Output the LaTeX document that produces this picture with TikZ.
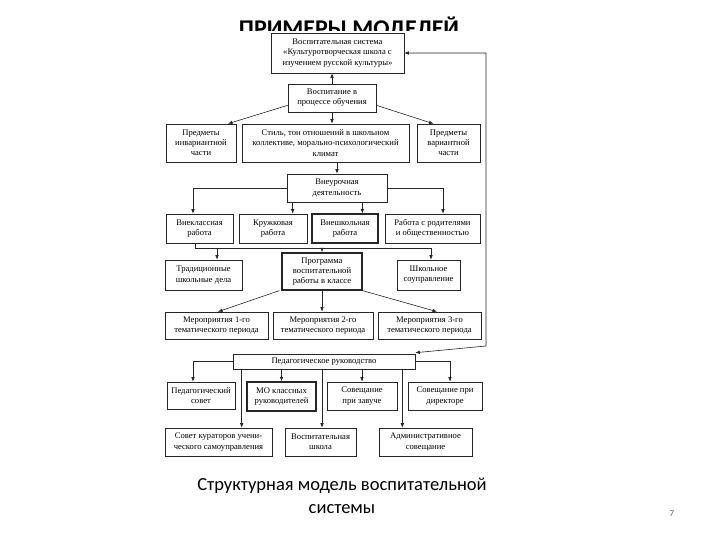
\documentclass[tikz,border=0pt]{standalone}
\usepackage{fontspec}
\setmainfont{Liberation Serif}
\newfontfamily\capfont{Carlito}
\usetikzlibrary{arrows.meta,calc}
\begin{document}
\begin{tikzpicture}[x=1pt,y=-1pt,
  bx/.style={draw=black!85,line width=0.6pt,inner sep=0pt,align=center,
    font=\fontsize{8.6}{10.2}\selectfont},
  thick box/.style={bx,line width=1.3pt},
  arr/.style={draw=black!85,line width=0.6pt,-{Latex[length=4.5pt,width=3.6pt]}},
  arrr/.style={draw=black!85,line width=0.6pt,{Latex[length=4.5pt,width=3.6pt]}-{Latex[length=4.5pt,width=3.6pt]}},
  ln/.style={draw=black!85,line width=0.6pt}]
\useasboundingbox (0,0) rectangle (720,540);
\fill[white] (0,0) rectangle (720,540);
% title (partly hidden by the diagram image)
\begin{scope}
\clip (0,0) rectangle (720,31);
\node[font=\capfont\bfseries\fontsize{24}{28}\selectfont,anchor=base,inner sep=0pt] (title) at (349,36.5) {ПРИМЕРЫ МОДЕЛЕЙ};
\end{scope}
% boxes
\node[bx,minimum width=133,minimum height=40] (top) at (337.5,53) {Воспитательная система\\«Культуротворческая школа с\\изучением русской культуры»};
\node[bx,minimum width=88,minimum height=28] (vosp) at (332,98) {Воспитание в\\процессе обучения};
\node[bx,minimum width=70,minimum height=38] (pinv) at (201,143) {Предметы\\инвариантной\\части};
\node[bx,minimum width=167,minimum height=38] (stil) at (325.5,143) {Стиль, тон отношений в школьном\\коллективе, морально-психологический\\климат};
\node[bx,minimum width=63,minimum height=38] (pvar) at (448.5,143) {Предметы\\вариантной\\части};
\node[bx,minimum width=100,minimum height=28] (vneur) at (337,188) {Внеурочная\\деятельность};
\node[bx,minimum width=67,minimum height=29] (vnekl) at (199.5,228.5) {Внеклассная\\работа};
\node[bx,minimum width=68,minimum height=29] (kruzh) at (273,228.5) {Кружковая\\работа};
\node[thick box,minimum width=66,minimum height=29] (vnesh) at (345,228.5) {Внешкольная\\работа};
\node[bx,minimum width=95,minimum height=29] (rabrod) at (432.5,228.5) {Работа с родителями\\и общественностью};
\node[bx,minimum width=77,minimum height=30] (trad) at (203.5,275) {Традиционные\\школьные дела};
\node[thick box,minimum width=80,minimum height=37] (prog) at (322,271.5) {Программа\\воспитательной\\работы в классе};
\node[bx,minimum width=63,minimum height=30] (shkol) at (428.5,275) {Школьное\\соуправление};
\node[bx,minimum width=103,minimum height=27] (mer1) at (216.5,325.5) {Мероприятия 1-го\\тематического периода};
\node[bx,minimum width=100,minimum height=27] (mer2) at (323,325.5) {Мероприятия 2-го\\тематического периода};
\node[bx,minimum width=103,minimum height=27] (mer3) at (429.5,325.5) {Мероприятия 3-го\\тематического периода};
\node[bx,minimum width=182,minimum height=15] (ped) at (324,361.5) {Педагогическое руководство};
\node[bx,minimum width=68,minimum height=27] (psov) at (201,395.5) {Педагогический\\совет};
\node[thick box,minimum width=69,minimum height=29] (mo) at (281.5,396.5) {МО классных\\руководителей};
\node[bx,minimum width=70,minimum height=28] (zav) at (362,396) {Совещание\\при завуче};
\node[bx,minimum width=74,minimum height=28] (dir) at (445,396) {Совещание при\\директоре};
\node[bx,minimum width=107,minimum height=28] (kur) at (218.5,442) {Совет кураторов учени-\\ческого самоуправления};
\node[bx,minimum width=71,minimum height=28] (vshk) at (320.5,442) {Воспитательная\\школа};
\node[bx,minimum width=93,minimum height=28] (adm) at (425.5,442) {Административное\\совещание};
% connectors
\draw[arr] (vosp.north) -- (vosp.north |- top.south);
\draw[arr] (vosp.south) -- (vosp.south |- stil.north);
\draw[arr] ($(vosp.south west)+(0,-7)$) -- ($(pinv.north)+(27,0)$);
\draw[arr] ($(vosp.south east)+(0,-7)$) -- ($(pvar.north)+(-15,0)$);
\draw[arr] (stil.south -| vneur.north) -- (vneur.north);
\draw[arr] (vneur.west) -| ($(vnekl.north)+(-6.5,0)$);
\draw[arr] (vneur.east) -| ($(rabrod.north)+(10.5,0)$);
\coordinate (k1) at ($(vneur.south west)+(6,0)$);
\draw[arr] (k1) -- (k1 |- kruzh.north);
\coordinate (k2) at ($(vneur.south east)+(-25,0)$);
\draw[arr] (k2) -- (k2 |- vnesh.north);
\coordinate (busA) at (195,243);
\coordinate (busB) at (195,248);
\coordinate (busC) at (431,248);
\draw[ln] (busA) -- (busB) -- (busC);
\draw[arr] (busB -| 217,0) -- (217,0 |- trad.north);
\draw[arr] (busB -| prog.north) -- (prog.north);
\draw[arr] (busC) -- (busC |- shkol.north);
\draw[arr] ($(prog.south west)+(-2,0)$) -- ($(mer1.north)+(1.5,0)$);
\draw[arr] (prog.south) -- (prog.south |- mer2.north);
\draw[arr] (prog.south east) -- ($(mer3.north)+(7.5,0)$);
\coordinate (rc1) at (486,346);
\coordinate (rc2) at (486,53);
\draw[arrr] ($(ped.north east)+(0,-1)$) -- (rc1) -- (rc2) -- (top.east);
\draw[arr] (ped.west) -| ($(psov.north)+(-8,0)$);
\draw[arr] (ped.east) -| ($(dir.north)+(5,0)$);
\draw[arr] (ped.south -| mo.north) -- (mo.north);
\draw[arr] (ped.south -| zav.north) -- (zav.north);
\coordinate (p1) at ($(ped.south west)+(9,0)$);
\draw[arr] (p1) -- (p1 |- kur.north);
\coordinate (p2) at ($(ped.south)+(-2,0)$);
\draw[arr] (p2) -- (p2 |- vshk.north);
\coordinate (p3) at ($(ped.south east)+(-13,0)$);
\draw[arr] (p3) -- (p3 |- adm.north);
% caption
\node[font=\capfont\fontsize{18.5}{23}\selectfont,align=center,inner sep=0pt] (cap) at (342,496) {Структурная модель воспитательной\\системы};
\node[font=\capfont\fontsize{9}{10}\selectfont,text=black!60,inner sep=0pt] (pnum) at (672,514) {7};
\end{tikzpicture}
\end{document}
